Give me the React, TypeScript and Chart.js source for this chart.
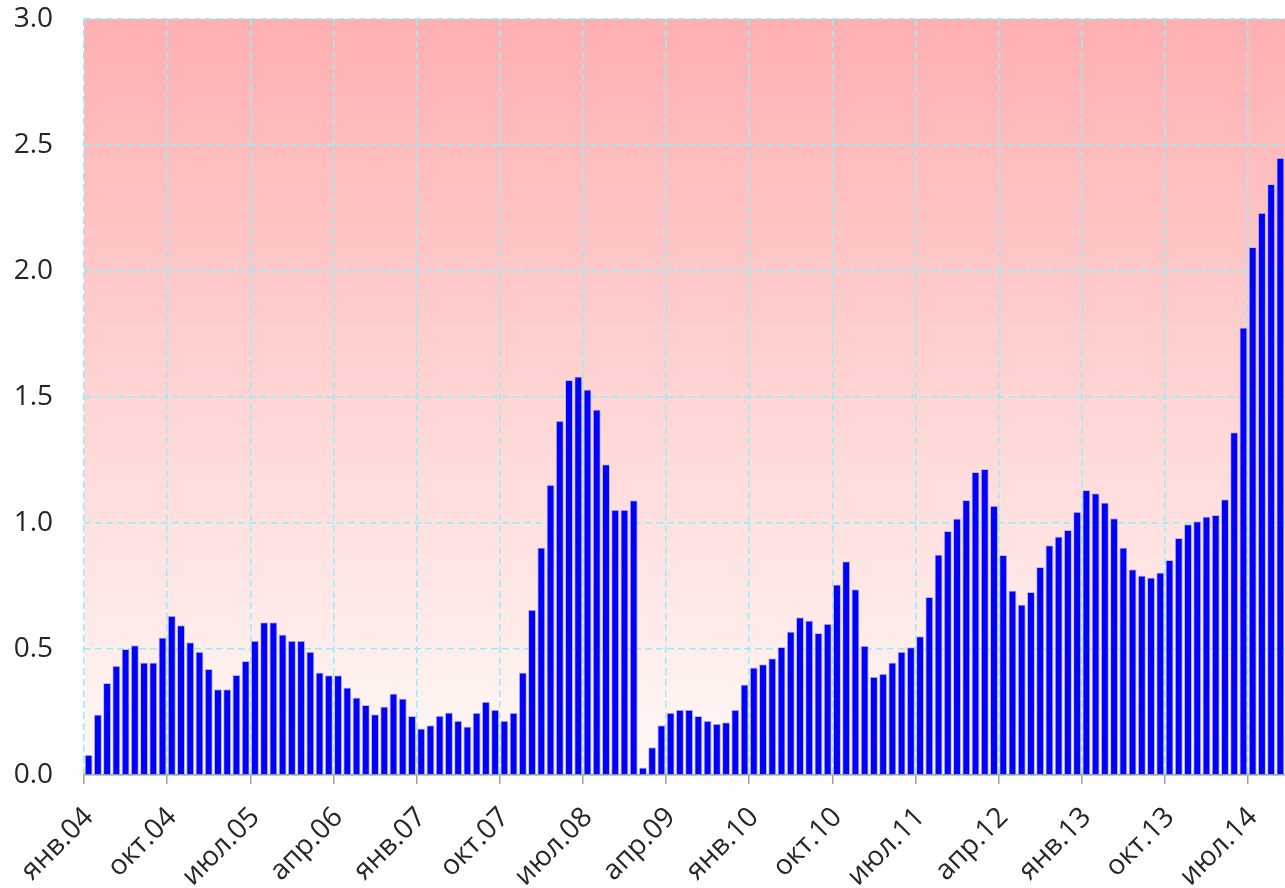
import React, { useEffect, useRef } from 'react';
import { Chart, registerables } from 'chart.js';

Chart.register(...registerables);

// Month names used to build the category labels (Jan 2004 .. Oct 2014)
const monthNames = ['янв', 'фев', 'мар', 'апр', 'май', 'июн', 'июл', 'авг', 'сен', 'окт', 'ноя', 'дек'];
const years = ['04', '05', '06', '07', '08', '09', '10', '11', '12', '13', '14'];
const categories: string[] = years.flatMap((y) => monthNames.map((m) => `${m}.${y}`)).slice(0, 130);

// Series values, one per month
const values2004 = [0.08, 0.24, 0.365, 0.434, 0.50, 0.515, 0.446, 0.446, 0.546, 0.632, 0.594, 0.527];
const values2005 = [0.489, 0.421, 0.34, 0.34, 0.397, 0.452, 0.533, 0.606, 0.606, 0.558, 0.533, 0.533];
const values2006 = [0.489, 0.407, 0.396, 0.396, 0.347, 0.308, 0.278, 0.241, 0.272, 0.323, 0.304, 0.234];
const values2007 = [0.185, 0.197, 0.235, 0.248, 0.215, 0.192, 0.247, 0.291, 0.259, 0.215, 0.247, 0.407];
const values2008 = [0.656, 0.903, 1.152, 1.406, 1.567, 1.581, 1.53, 1.45, 1.233, 1.053, 1.053, 1.09];
const values2009 = [0.03, 0.11, 0.197, 0.247, 0.259, 0.259, 0.234, 0.215, 0.203, 0.209, 0.259, 0.359];
const values2010 = [0.427, 0.439, 0.463, 0.508, 0.569, 0.626, 0.613, 0.563, 0.6, 0.756, 0.848, 0.737];
const values2011 = [0.513, 0.39, 0.402, 0.446, 0.489, 0.507, 0.551, 0.706, 0.875, 0.968, 1.018, 1.091];
const values2012 = [1.202, 1.214, 1.068, 0.873, 0.732, 0.677, 0.726, 0.825, 0.912, 0.946, 0.972, 1.045];
const values2013 = [1.131, 1.118, 1.081, 1.019, 0.903, 0.816, 0.792, 0.784, 0.804, 0.853, 0.94, 0.995];
const values2014 = [1.007, 1.026, 1.032, 1.094, 1.36, 1.776, 2.095, 2.231, 2.345, 2.449];

const values: number[] = [
  ...values2004, ...values2005, ...values2006, ...values2007, ...values2008, ...values2009,
  ...values2010, ...values2011, ...values2012, ...values2013, ...values2014,
];

// Tick labels shown every 9 months
const tickStep = 9;
const yTicks = [0, 0.5, 1.0, 1.5, 2.0, 2.5, 3.0];

const gradientPlugin = {
  id: 'plotGradient',
  beforeDraw(chart: any) {
    const { ctx, chartArea } = chart;
    if (!chartArea) return;
    const g = ctx.createLinearGradient(0, chartArea.top, 0, chartArea.bottom);
    g.addColorStop(0, '#FFAFB1');
    g.addColorStop(1, '#FFFAF7');
    ctx.save();
    ctx.fillStyle = g;
    ctx.fillRect(chartArea.left, chartArea.top, chartArea.right - chartArea.left, chartArea.bottom - chartArea.top);
    ctx.restore();
  },
};

export default function App() {
  const ref = useRef<HTMLCanvasElement | null>(null);

  useEffect(() => {
    document.body.style.margin = '0';
    if (!ref.current) return;
    const font = { family: '"Open Sans", sans-serif', size: 28 };
    const gridColor = '#94F0F8';
    const chart = new Chart(ref.current, {
      type: 'bar',
      data: {
        datasets: [
          {
            data: values.map((v, i) => ({ x: i + 0.5, y: v })),
            backgroundColor: '#0000FF',
            borderColor: '#BDBDDA',
            borderWidth: 1,
            barPercentage: 0.87,
            categoryPercentage: 1,
          },
        ],
      },
      options: {
        animation: false,
        responsive: false,
        maintainAspectRatio: false,
        layout: { padding: { left: 0, right: 0, top: 19, bottom: 0 } },
        plugins: { legend: { display: false }, tooltip: { enabled: false } },
        scales: {
          x: {
            type: 'linear',
            min: 0,
            max: categories.length,
            offset: false,
            afterFit: (s: any) => {
              s.paddingLeft = 0;
              s.paddingRight = 0;
              s.height = 113;
            },
            grid: {
              offset: false,
              color: gridColor,
              lineWidth: 1.5,
              drawTicks: true,
              tickLength: 9,
              tickColor: '#A0A0A0',
              tickWidth: 1.5,
              tickBorderDash: [],
            },
            border: { display: true, color: '#A0A0A0', width: 1.5, dash: [7, 4] },
            ticks: {
              stepSize: tickStep,
              autoSkip: false,
              includeBounds: false,
              maxRotation: 45,
              minRotation: 45,
              padding: 17,
              labelOffset: 5,
              font,
              color: '#262626',
              callback: (v: any) => (Number(v) % tickStep === 0 ? categories[Number(v)] ?? '' : ''),
            },
          },
          y: {
            min: yTicks[0],
            max: yTicks[yTicks.length - 1],
            afterFit: (s: any) => {
              s.paddingTop = 0;
              s.paddingBottom = 0;
              s.width = 84;
            },
            grid: { color: gridColor, lineWidth: 1.5, drawTicks: false },
            border: { display: false, dash: [7, 4] },
            ticks: {
              stepSize: 0.5,
              padding: 31,
              font,
              color: '#262626',
              callback: (v: any) => Number(v).toFixed(1),
            },
          },
        },
      },
      plugins: [gradientPlugin],
    } as any);
    return () => chart.destroy();
  }, []);

  return (
    <div style={{ position: 'absolute', left: 0, top: 0 }}>
      <canvas ref={ref} width={1285} height={888} style={{ display: 'block' }} />
    </div>
  );
}
